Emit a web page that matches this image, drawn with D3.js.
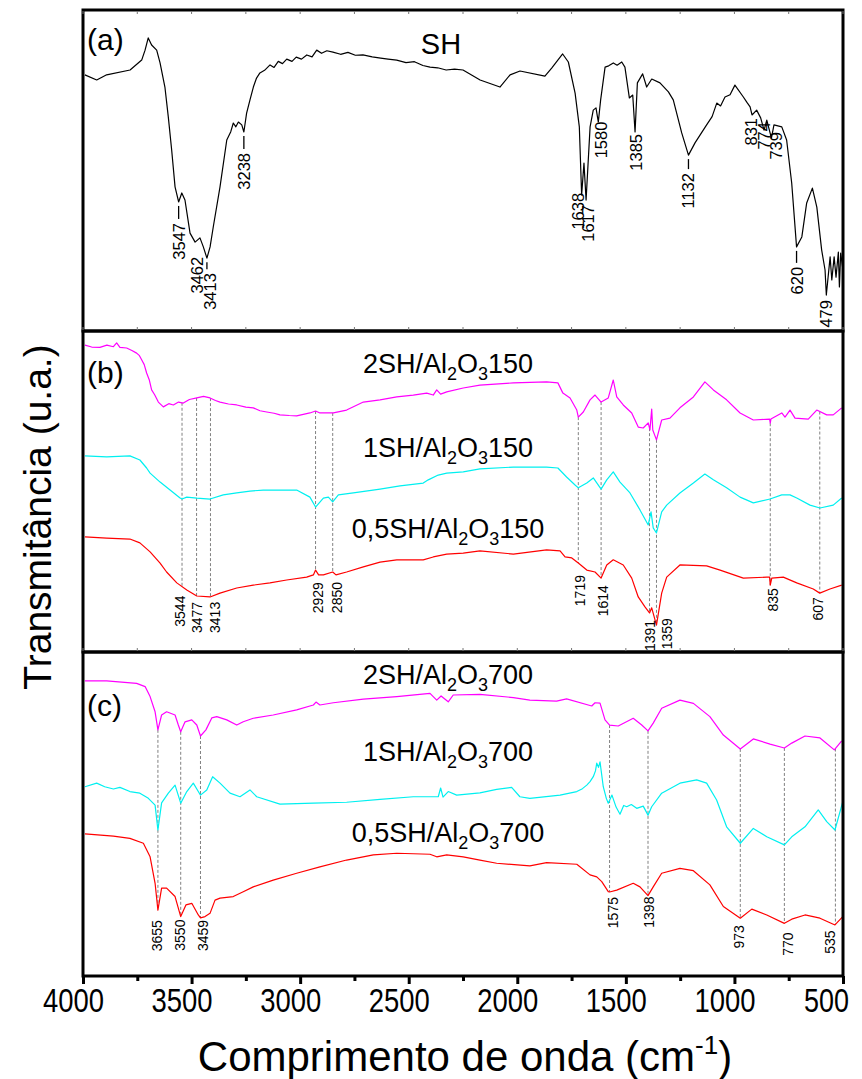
<!DOCTYPE html>
<html>
<head>
<meta charset="utf-8">
<script src="https://cdn.jsdelivr.net/npm/d3@7"></script>
<style>
  body { margin: 0; background: #fff; }
  text { font-family: "Liberation Sans", Arial, sans-serif; fill: #000; }
</style>
</head>
<body>
<div id="vis"></div>
<script>
// ---- data: [wavenumber (cm-1), transmittance (u.a.)] ----
const sh = [[3991,79.8],[3935,78.2],[3888,79.8],[3777,81.3],[3722,84.4],[3706,87.5],[3691,91.3],[3675,89.1],[3651,87.5],[3635,83.5],[3612,76.0],[3596,66.7],[3580,56.4],[3564,44.9],[3547,40.2],[3532,43.0],[3517,40.8],[3493,30.5],[3469,27.7],[3446,29.0],[3430,26.2],[3413,22.7],[3398,26.2],[3383,32.4],[3351,44.9],[3319,59.5],[3300,62.1],[3288,64.8],[3276,63.6],[3264,65.1],[3248,64.2],[3238,62.0],[3225,67.9],[3209,72.0],[3193,76.0],[3178,78.8],[3162,80.4],[3140,81.2],[3114,82.9],[3095,82.1],[3075,84.0],[3055,83.3],[3035,84.7],[3010,84.0],[2990,85.3],[2965,84.7],[2940,86.0],[2915,85.4],[2893,87.5],[2870,86.5],[2845,87.3],[2816,86.9],[2780,86.2],[2745,86.8],[2710,85.9],[2674,86.0],[2630,85.4],[2590,85.0],[2555,84.7],[2514,84.4],[2470,83.6],[2430,83.9],[2390,82.7],[2356,82.2],[2320,82.0],[2280,81.3],[2240,81.6],[2200,81.3],[2119,78.2],[2025,76.0],[1977,79.8],[1930,81.0],[1812,79.4],[1780,81.9],[1728,86.3],[1701,83.8],[1669,74.1],[1649,63.6],[1638,42.4],[1627,52.3],[1617,40.8],[1598,63.6],[1583,68.8],[1570,69.5],[1559,65.1],[1548,72.0],[1527,82.2],[1510,82.6],[1488,83.5],[1470,82.8],[1448,83.8],[1433,82.2],[1412,72.6],[1396,73.5],[1385,62.0],[1374,77.3],[1349,80.1],[1330,76.0],[1306,78.5],[1267,77.3],[1227,74.5],[1204,72.0],[1164,61.7],[1132,54.8],[1101,58.6],[1046,64.2],[1020,66.8],[998,71.0],[980,70.1],[959,72.9],[935,73.6],[912,76.6],[872,72.9],[855,71.2],[840,69.8],[831,67.3],[809,68.8],[790,66.4],[774,62.6],[761,65.7],[739,60.1],[727,64.2],[690,63.6],[667,59.5],[643,46.1],[620,26.2],[595,29.3],[572,39.9],[545,44.5],[524,38.6],[501,25.2],[485,19.0],[479,11.2],[461,23.1],[453,15.9],[442,23.1],[433,16.8],[422,24.6],[417,13.7],[411,24.3],[402,20.0]];

const sh2_150 = [[3991,95.9],[3960,95.3],[3922,95.2],[3890,95.9],[3860,95.4],[3845,96.6],[3830,95.2],[3799,95.0],[3775,94.2],[3753,93.4],[3740,92.6],[3730,91.3],[3718,89.8],[3707,87.2],[3695,85.1],[3684,81.9],[3670,80.4],[3653,78.1],[3630,76.6],[3605,77.6],[3584,77.2],[3560,78.1],[3538,77.8],[3510,78.9],[3476,79.4],[3445,79.9],[3415,79.4],[3390,78.6],[3369,78.1],[3330,77.5],[3292,77.2],[3250,76.5],[3216,76.3],[3185,75.4],[3154,75.0],[3120,74.6],[3093,74.1],[3050,73.9],[3016,73.8],[2955,74.7],[2929,75.3],[2909,74.7],[2847,74.7],[2786,75.6],[2709,78.1],[2632,78.8],[2555,79.7],[2479,80.3],[2417,80.9],[2387,80.3],[2371,81.9],[2353,80.6],[2325,81.3],[2249,82.5],[2172,83.4],[2018,84.1],[1865,84.4],[1813,84.1],[1790,80.9],[1757,79.4],[1726,75.6],[1719,73.4],[1696,75.0],[1665,78.8],[1642,80.3],[1614,78.1],[1581,79.4],[1558,85.0],[1542,79.7],[1512,77.2],[1473,74.7],[1443,70.3],[1420,70.0],[1397,71.6],[1389,69.4],[1381,75.9],[1376,69.4],[1359,66.3],[1335,72.5],[1297,73.1],[1251,76.3],[1189,79.7],[1136,84.4],[1097,81.9],[1036,78.8],[974,74.7],[913,72.5],[838,72.8],[835,71.5],[832,72.8],[782,74.7],[767,73.4],[744,75.6],[721,73.1],[660,72.8],[621,75.6],[575,74.1],[545,74.1],[506,76.3]];

const sh1_150 = [[3991,61.3],[3891,61.0],[3784,61.3],[3738,60.0],[3707,57.5],[3691,55.9],[3645,53.1],[3599,50.6],[3553,48.1],[3544,47.8],[3522,48.4],[3476,48.1],[3415,47.8],[3354,49.1],[3292,49.7],[3231,50.3],[3170,50.6],[3093,50.6],[3016,50.6],[2955,48.4],[2929,45.3],[2893,48.1],[2870,48.4],[2850,46.9],[2824,49.1],[2755,49.7],[2632,50.9],[2540,51.9],[2433,52.8],[2410,53.8],[2364,55.3],[2325,55.9],[2249,56.3],[2172,57.2],[2018,57.8],[1865,57.8],[1813,57.5],[1773,54.7],[1734,52.2],[1719,51.3],[1680,52.8],[1650,54.4],[1614,50.9],[1588,53.8],[1558,56.3],[1527,53.1],[1481,49.7],[1435,44.4],[1397,39.7],[1384,43.8],[1374,38.8],[1359,37.2],[1335,43.8],[1312,45.9],[1251,49.7],[1189,52.8],[1136,55.6],[1097,53.8],[1036,51.3],[974,48.4],[913,46.6],[836,47.8],[782,49.1],[744,49.1],[713,48.1],[652,45.9],[606,45.0],[545,45.9],[506,48.1]];

const sh05_150 = [[3991,36.0],[3891,35.6],[3784,35.3],[3738,34.1],[3691,31.3],[3645,27.8],[3615,25.0],[3568,21.6],[3522,19.4],[3476,17.5],[3415,17.2],[3369,18.4],[3292,20.0],[3216,20.9],[3139,21.6],[3062,22.5],[2970,23.4],[2939,24.1],[2929,25.6],[2915,24.1],[2893,24.1],[2850,25.0],[2835,24.1],[2786,25.0],[2709,26.6],[2632,28.1],[2555,28.8],[2433,28.8],[2387,29.7],[2325,30.6],[2249,30.9],[2172,31.6],[2018,30.6],[1865,31.9],[1803,31.6],[1780,29.7],[1749,29.4],[1719,27.8],[1680,25.6],[1642,25.0],[1614,23.1],[1588,27.2],[1558,28.8],[1512,27.2],[1473,23.1],[1443,17.2],[1412,14.1],[1391,12.2],[1381,13.8],[1359,8.4],[1335,18.4],[1312,23.4],[1251,27.2],[1128,26.9],[1066,25.6],[959,23.1],[851,23.4],[838,23.4],[835,20.9],[828,23.1],[775,23.4],[713,21.6],[637,19.7],[607,18.4],[560,19.7],[506,20.9]];

const sh2_700 = [[3991,91.4],[3891,91.4],[3753,90.6],[3714,89.6],[3691,86.5],[3668,81.8],[3655,76.2],[3638,80.8],[3615,81.8],[3576,80.8],[3561,77.7],[3550,75.6],[3530,78.7],[3499,79.3],[3476,77.7],[3459,74.3],[3434,76.2],[3407,79.9],[3384,80.3],[3338,79.3],[3292,77.7],[3262,78.7],[3216,79.8],[3124,80.8],[3016,82.4],[2939,83.9],[2927,84.8],[2909,83.9],[2847,84.6],[2709,85.7],[2555,86.5],[2402,87.5],[2371,85.4],[2351,86.7],[2318,84.9],[2295,87.0],[2172,87.2],[2018,86.2],[1942,85.4],[1819,85.1],[1773,85.8],[1657,83.6],[1642,84.6],[1619,84.5],[1596,79.3],[1575,77.7],[1535,77.4],[1466,79.8],[1427,77.7],[1398,75.9],[1374,78.3],[1335,82.9],[1251,85.4],[1189,84.4],[1113,80.3],[1051,74.6],[973,70.3],[913,73.4],[836,71.8],[770,70.6],[736,72.1],[675,74.3],[606,73.7],[540,70.0],[506,72.8]];

const sh1_700 = [[3991,58.6],[3937,59.7],[3900,58.6],[3860,57.9],[3830,58.4],[3784,57.1],[3738,56.6],[3699,55.0],[3668,52.9],[3655,45.2],[3638,53.6],[3607,56.6],[3576,59.1],[3550,53.5],[3522,57.1],[3492,59.7],[3469,57.1],[3459,56.0],[3430,57.6],[3403,61.7],[3369,59.7],[3323,56.6],[3277,55.5],[3231,57.6],[3200,55.5],[3093,53.2],[2939,53.5],[2786,53.8],[2632,54.7],[2479,55.5],[2364,55.5],[2353,58.2],[2342,55.4],[2318,57.1],[2279,56.0],[2172,56.7],[2095,57.8],[2026,58.4],[1988,55.5],[1942,55.0],[1803,56.0],[1726,57.1],[1700,58.0],[1680,59.1],[1665,60.2],[1650,61.7],[1640,63.5],[1634,65.9],[1626,64.6],[1619,66.3],[1604,58.6],[1590,55.0],[1581,53.5],[1564,56.0],[1545,52.3],[1527,50.1],[1510,52.8],[1496,52.4],[1475,53.1],[1450,51.9],[1420,52.6],[1398,49.8],[1381,52.4],[1335,56.6],[1251,59.7],[1174,60.7],[1128,59.7],[1082,54.5],[1036,46.2],[973,41.1],[913,45.7],[851,43.1],[770,40.6],[736,43.1],[675,46.2],[614,51.4],[575,47.8],[537,45.2],[501,54.0]];

const sh05_700 = [[3991,44.0],[3860,43.3],[3784,42.6],[3722,41.1],[3691,36.9],[3668,28.7],[3655,20.4],[3638,27.2],[3615,27.2],[3576,24.6],[3550,18.4],[3526,22.0],[3499,22.5],[3469,18.9],[3459,18.0],[3438,18.4],[3415,19.4],[3392,23.5],[3369,24.1],[3308,24.6],[3262,26.1],[3216,27.6],[3124,29.7],[3016,31.8],[2909,33.8],[2786,35.9],[2663,37.5],[2555,38.0],[2402,37.7],[2371,36.9],[2325,37.5],[2249,36.9],[2172,35.9],[2095,34.9],[1942,34.1],[1865,35.1],[1726,34.6],[1665,31.3],[1634,30.7],[1611,29.2],[1581,26.1],[1575,26.0],[1542,26.6],[1466,28.7],[1435,27.6],[1398,24.9],[1374,27.6],[1335,31.8],[1251,33.3],[1189,32.6],[1113,28.2],[1051,21.5],[973,17.9],[920,20.7],[851,18.9],[770,16.3],[736,17.6],[675,18.9],[606,17.9],[537,15.8],[501,18.4]];

const peaksSH = [3547, 3462, 3413, 3238, 1638, 1617, 1580, 1385, 1132, 831, 774, 739, 620, 479];
const peaks150 = [3544, 3477, 3413, 2929, 2850, 1719, 1614, 1391, 1359, 835, 607];
const peaks700 = [3655, 3550, 3459, 1575, 1398, 973, 770, 535];

const names150 = ["2SH/Al2O3150", "1SH/Al2O3150", "0,5SH/Al2O3150"];
const names700 = ["2SH/Al2O3700", "1SH/Al2O3700", "0,5SH/Al2O3700"];
const xTicks = [4000, 3500, 3000, 2500, 2000, 1500, 1000, 500];
const xMinor = [3750, 3250, 2750, 2250, 1750, 1250, 750];

// ---- layout ----
const width = 862, height = 1079;
const left = 83, right = 843;
const colors = ["#ff00ff", "#00f0f0", "#ff0000"];

// label nudges: [dx, gap below curve, short tick?]
const nudgeA = {3547:[0,21,1],3462:[0,16,0],3413:[3,15,1],3238:[0,21,1],1638:[-4,-2,0],1617:[2,5,0],1580:[7,12,0],1385:[1,2,0],1132:[0,18,1],831:[-1,3,0],774:[0,-8,0],739:[5,-6,0],620:[0,20,1],479:[0,5,0]};
const nudgeBC = {3544:[-2,9],3477:[0,6],3413:[4,5],2929:[2,12],2850:[4,10],1719:[2,12],1614:[2,7],1391:[0,7],1359:[10,-7],835:[3,3],607:[-2,4],
                 3655:[-1,10],3550:[-1,3],3459:[2,2],1575:[3,5],1398:[1,1],973:[-1,7],770:[4,9],535:[-5,6]};

const svg = d3.select("#vis").append("svg")
  .attr("width", width).attr("height", height);

const xBC = d3.scaleLinear().domain([4000, 500]).range([left, right]);
const xA = d3.scaleLinear().domain([4000, 400]).range([left, right]);
const yA = d3.scaleLinear().domain([0, 100]).range([331, 10]);
const yB = d3.scaleLinear().domain([0, 100]).range([652, 332]);
const yC = d3.scaleLinear().domain([0, 100]).range([976, 653]);

function valueAt(series, w) {
  for (let i = 0; i < series.length - 1; i++) {
    const a = series[i], b = series[i + 1];
    if (w <= a[0] && w >= b[0]) {
      const t = (a[0] - w) / (a[0] - b[0]);
      return a[1] + t * (b[1] - a[1]);
    }
  }
  return series[series.length - 1][1];
}

function drawLine(data, x, y, color) {
  svg.append("path")
    .datum(data)
    .attr("fill", "none")
    .attr("stroke", color)
    .attr("stroke-width", 1.2)
    .attr("stroke-linejoin", "round")
    .attr("d", d3.line().x(d => x(d[0])).y(d => y(d[1])));
}

function peakLabel(txt, cx, top, size) {
  svg.append("text")
    .attr("transform", `translate(${cx},${top}) rotate(-90)`)
    .attr("text-anchor", "end")
    .attr("dy", "0.36em")
    .style("font-size", size + "px")
    .text(txt);
}

function seriesName(name, cx, baseline) {
  const m = name.match(/^(.*Al)2O3(\d+)$/);
  const t = svg.append("text").attr("x", cx).attr("y", baseline)
    .attr("text-anchor", "middle").style("font-size", "27px");
  t.append("tspan").text(m[1]);
  t.append("tspan").attr("dy", 7).style("font-size", "18px").text("2");
  t.append("tspan").attr("dy", -7).text("O");
  t.append("tspan").attr("dy", 7).style("font-size", "18px").text("3");
  t.append("tspan").attr("dy", -7).text(m[2]);
}

// ---- panel (a) ----
drawLine(sh, xA, yA, "#000");
peaksSH.forEach(p => {
  const [dx, gap, tick] = nudgeA[p];
  const cy = yA(valueAt(sh, p));
  if (tick) {
    svg.append("line")
      .attr("x1", xA(p)).attr("x2", xA(p))
      .attr("y1", cy + 4).attr("y2", cy + gap - 4)
      .attr("stroke", "#000").attr("stroke-width", 1.3);
  }
  peakLabel(p, xA(p) + dx, cy + gap, 16.5);
});
svg.append("text").attr("x", 441).attr("y", 54).attr("text-anchor", "middle")
  .style("font-size", "29px").text("SH");

// ---- panels (b) and (c) ----
function stackPanel(series, peaks, names, y, nameBaselines) {
  peaks.forEach(p => {
    svg.append("line")
      .attr("x1", xBC(p)).attr("x2", xBC(p))
      .attr("y1", y(valueAt(series[0], p))).attr("y2", y(valueAt(series[2], p)))
      .attr("stroke", "#808080").attr("stroke-width", 1)
      .attr("stroke-dasharray", "3,2");
  });
  series.forEach((s, i) => drawLine(s, xBC, y, colors[i]));
  peaks.forEach(p => {
    const [dx, gap] = nudgeBC[p];
    peakLabel(p, xBC(p) + dx, y(valueAt(series[2], p)) + gap, 14);
  });
  names.forEach((n, i) => seriesName(n, 448, nameBaselines[i]));
}
stackPanel([sh2_150, sh1_150, sh05_150], peaks150, names150, yB, [373, 457, 538]);
stackPanel([sh2_700, sh1_700, sh05_700], peaks700, names700, yC, [684, 761, 842]);

// panel letters
[["(a)", 50], ["(b)", 383], ["(c)", 716]].forEach(([t, yy]) => {
  svg.append("text").attr("x", 87).attr("y", yy).style("font-size", "30px").text(t);
});

// ---- frames and ticks ----
[[10, 331], [331, 652], [652, 976]].forEach(([t, b]) => {
  svg.append("rect").attr("x", left).attr("y", t)
    .attr("width", right - left).attr("height", b - t)
    .attr("fill", "none").attr("stroke", "#000").attr("stroke-width", 3);
});
const allTicks = xTicks.concat(xMinor);
[10, 331, 652].forEach((yy, i) => {
  svg.append("g").selectAll("line").data(allTicks).join("line")
    .attr("x1", d => xBC(d)).attr("x2", d => xBC(d))
    .attr("y1", i === 0 ? yy + 1 : yy - 1).attr("y2", i === 0 ? yy + 4 : yy - 4)
    .attr("stroke", "#777").attr("stroke-width", 1);
});

const axisMajor = svg.append("g").attr("transform", "translate(0,976)")
  .call(d3.axisBottom(xBC).tickValues(xTicks).tickFormat(d3.format("d"))
    .tickSize(8).tickSizeOuter(0).tickPadding(4));
axisMajor.select(".domain").remove();
axisMajor.selectAll("line").attr("stroke-width", 3);
axisMajor.selectAll("text")
  .style("font-size", "34px")
  .style("font-family", "'Liberation Sans', Arial, sans-serif")
  .attr("dx", d => d === 500 ? -17 : -10)
  .attr("textLength", d => d >= 1000 ? 61 : 45)
  .attr("lengthAdjust", "spacingAndGlyphs");

const axisMinor = svg.append("g").attr("transform", "translate(0,976)")
  .call(d3.axisBottom(xBC).tickValues(xMinor).tickSize(5).tickFormat(""));
axisMinor.select(".domain").remove();
axisMinor.selectAll("line").attr("stroke-width", 3);

// axis titles
const xt = svg.append("text").attr("x", 465).attr("y", 1071)
  .attr("text-anchor", "middle").style("font-size", "42px");
xt.append("tspan").text("Comprimento de onda (cm");
xt.append("tspan").attr("dy", -17).style("font-size", "26px").text("-1");
xt.append("tspan").attr("dy", 17).text(")");

svg.append("text")
  .attr("transform", "translate(37,517) rotate(-90)")
  .attr("text-anchor", "middle").attr("dy", "0.36em")
  .style("font-size", "39px").text("Transmitância (u.a.)");
</script>
</body>
</html>
